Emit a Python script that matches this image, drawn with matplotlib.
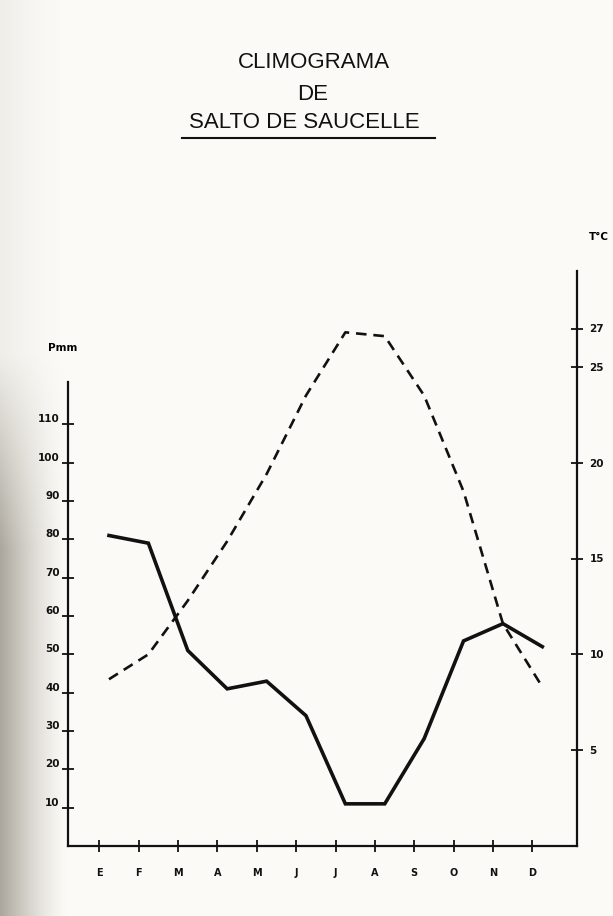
import numpy as np
import matplotlib.pyplot as plt
from matplotlib.lines import Line2D

# data
months = ['E', 'F', 'M', 'A', 'M', 'J', 'J', 'A', 'S', 'O', 'N', 'D']
precip_mm = [81, 79, 51, 41, 43, 34, 11, 11, 28, 53.5, 58, 52]
temp_c = [8.7, 10.0, 12.8, 15.9, 19.4, 23.5, 26.8, 26.6, 23.5, 18.5, 11.6, 8.3]
p_ticks = [10, 20, 30, 40, 50, 60, 70, 80, 90, 100, 110]
t_ticks = [5, 10, 15, 20, 25, 27]

W, H = 613, 916
fig = plt.figure(figsize=(W / 100, H / 100), dpi=100)
fig.patch.set_facecolor('#fbfaf6')

# paper shadow at the left edge of the scan (darker towards the bottom)
bg = fig.add_axes([0, 0, 1, 1], zorder=-10)
gx = np.linspace(0, 1, 300)
shade = np.clip(1 - gx / 0.11, 0, 1) ** 1.4
gy = np.linspace(0, 1, 200)[:, None]          # 0 = top of the page
vert = np.clip((gy - 0.35) / 0.25, 0.15, 1)
img = np.zeros((200, 300, 4))
img[..., 0] = 0.42
img[..., 1] = 0.39
img[..., 2] = 0.33
img[..., 3] = shade[None, :] * vert * 0.55
bg.imshow(img, extent=[0, 1, 0, 1], aspect='auto', origin='upper')
bg.set_xlim(0, 1)
bg.set_ylim(0, 1)
bg.axis('off')

# plot area in pixels
left, right, bottom, top = 68, 577, 846, 271
ax = fig.add_axes([left / W, 1 - bottom / H, (right - left) / W, (bottom - top) / H])
ax.patch.set_alpha(0)

x = np.arange(len(months))
xd = x + 0.25  # points were drawn a little right of the ticks

ax.plot(xd, precip_mm, color='#111111', lw=2.6, solid_joinstyle='miter', zorder=3)
ax.set_xlim(-0.79, 12.13)
ax.set_ylim(0, 150)

ax2 = ax.twinx()
ax2.plot(xd, temp_c, color='#111111', lw=1.9, dashes=(4, 2.6), zorder=3)
ax2.set_ylim(0, 30)

for a in (ax, ax2):
    a.spines['top'].set_visible(False)
    for s in a.spines.values():
        s.set_linewidth(1.6)
        s.set_color('#111111')
ax.spines['right'].set_visible(False)
ax2.spines['left'].set_visible(False)
ax2.spines['bottom'].set_visible(False)
ax.spines['left'].set_bounds(0, 121)

ax.set_xticks(x)
ax.set_xticklabels(months)
ax.set_yticks(p_ticks)
ax2.set_yticks(t_ticks)

lab_font = dict(family='DejaVu Sans', weight='bold', size=7.5)
ax.tick_params(axis='x', direction='inout', length=8, width=1.3, pad=12,
               colors='#111111', labelsize=7)
ax.tick_params(axis='y', direction='inout', length=8, width=1.3, pad=2,
               colors='#111111', labelsize=7.5)
ax2.tick_params(axis='y', direction='inout', length=8, width=1.3, pad=5,
                colors='#111111', labelsize=7.5)
for lab in ax.get_xticklabels() + ax.get_yticklabels() + ax2.get_yticklabels():
    lab.set_fontweight('bold')
for lab in ax.get_yticklabels():
    lab.set_va('bottom')

fig.text(48 / W, 1 - 348 / H, 'Pmm', ha='left', va='center', **lab_font)
fig.text(589 / W, 1 - 237 / H, 'T°C', ha='left', va='center', **lab_font)

title_font = dict(family='Liberation Sans', size=16, color='#111111')
fig.text(314 / W, 1 - 62 / H, 'CLIMOGRAMA', ha='center', va='center', **title_font)
fig.text(313 / W, 1 - 95 / H, 'DE', ha='center', va='center', **title_font)
fig.text(304 / W, 1 - 123 / H, 'SALTO DE SAUCELLE', ha='center', va='center', **title_font)
fig.add_artist(Line2D([182 / W, 435 / W], [1 - 138 / H] * 2,
                      transform=fig.transFigure, color='#111111', lw=1.5))

fig.savefig('out.png', dpi=100, facecolor=fig.get_facecolor())
